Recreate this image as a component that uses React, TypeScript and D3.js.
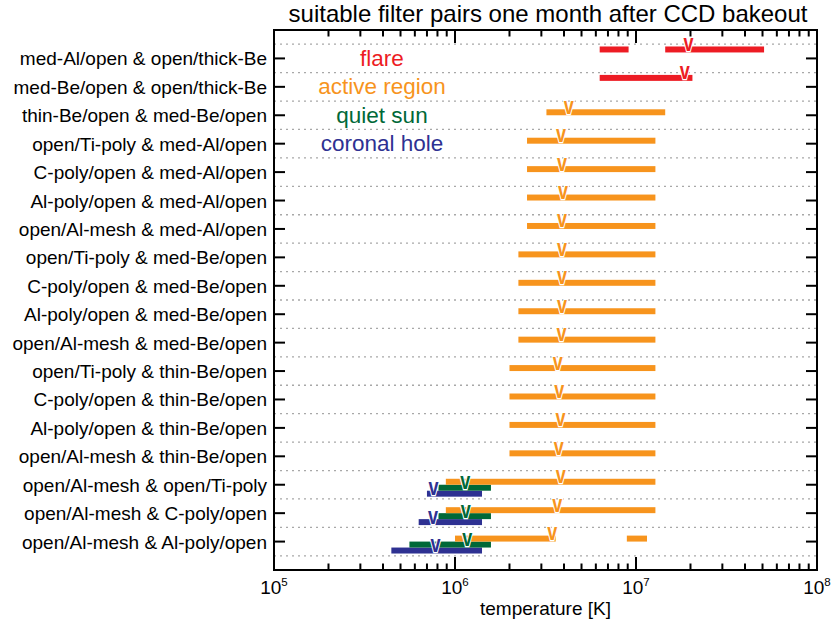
import * as React from "react";
import { scaleLog, scaleLinear, range } from "d3";

// filter pair labels, top to bottom
const pairLabels = [
  "med-Al/open & open/thick-Be",
  "med-Be/open & open/thick-Be",
  "thin-Be/open & med-Be/open",
  "open/Ti-poly & med-Al/open",
  "C-poly/open & med-Al/open",
  "Al-poly/open & med-Al/open",
  "open/Al-mesh & med-Al/open",
  "open/Ti-poly & med-Be/open",
  "C-poly/open & med-Be/open",
  "Al-poly/open & med-Be/open",
  "open/Al-mesh & med-Be/open",
  "open/Ti-poly & thin-Be/open",
  "C-poly/open & thin-Be/open",
  "Al-poly/open & thin-Be/open",
  "open/Al-mesh & thin-Be/open",
  "open/Al-mesh & open/Ti-poly",
  "open/Al-mesh & C-poly/open",
  "open/Al-mesh & Al-poly/open",
];

// [row, Tmin, Tmax] in K
const flareRanges: [number, number, number][] = [
  [0, 6.3e6, 9.1e6],
  [0, 1.45e7, 5.1e7],
  [1, 6.3e6, 2.05e7],
];
const flarePeaks: [number, number][] = [[0, 1.95e7], [1, 1.86e7]];

const activeRanges: [number, number, number][] = [
  [2, 3.2e6, 1.45e7],
  [3, 2.5e6, 1.28e7],
  [4, 2.5e6, 1.28e7],
  [5, 2.5e6, 1.28e7],
  [6, 2.5e6, 1.28e7],
  [7, 2.24e6, 1.28e7],
  [8, 2.24e6, 1.28e7],
  [9, 2.24e6, 1.28e7],
  [10, 2.24e6, 1.28e7],
  [11, 2.0e6, 1.28e7],
  [12, 2.0e6, 1.28e7],
  [13, 2.0e6, 1.28e7],
  [14, 2.0e6, 1.28e7],
  [15, 8.9e5, 1.28e7],
  [16, 8.9e5, 1.28e7],
  [17, 1.0e6, 3.6e6],
  [17, 8.9e6, 1.15e7],
];
const activePeaks: [number, number][] = [
  [2, 4.25e6], [3, 3.85e6], [4, 3.9e6], [5, 3.95e6], [6, 3.9e6],
  [7, 3.9e6], [8, 3.9e6], [9, 3.9e6], [10, 3.87e6],
  [11, 3.7e6], [12, 3.77e6], [13, 3.83e6], [14, 3.74e6],
  [15, 3.84e6], [16, 3.67e6], [17, 3.45e6],
];

const quietRanges: [number, number, number][] = [
  [15, 8.1e5, 1.58e6],
  [16, 8.1e5, 1.58e6],
  [17, 5.6e5, 1.58e6],
];
const quietPeaks: [number, number][] = [[15, 1.14e6], [16, 1.145e6], [17, 1.17e6]];

const holeRanges: [number, number, number][] = [
  [15, 7.0e5, 1.41e6],
  [16, 6.3e5, 1.41e6],
  [17, 4.45e5, 1.41e6],
];
const holePeaks: [number, number][] = [[15, 7.6e5], [16, 7.55e5], [17, 7.8e5]];

const seriesNames = ["flare", "active region", "quiet sun", "coronal hole"];
const seriesColors = ["#ed1c24", "#f7941d", "#006838", "#2e3192"];

const decadeTicks = [1e5, 1e6, 1e7, 1e8];
const decadeExponents = ["5", "6", "7", "8"];

const width = 833, height = 624;
const font = "'Liberation Sans', Arial, Helvetica, sans-serif";

export default function App() {
  const left = 274, right = 817, top = 30, bottom = 570;
  const x = scaleLog().domain([1e5, 1e8]).range([left, right]);
  const y = scaleLinear().domain([0, 19]).range([top, bottom]);
  const rowY = (i: number) => y(i + 1);
  const band = 0.21;
  const bandTop = (i: number, k: number) => y(i + 1 - 2 * band + k * band);

  const minorTicks: number[] = [];
  [1e5, 1e6, 1e7].forEach((d) => range(2, 10).forEach((m) => minorTicks.push(d * m)));

  const allRanges = [flareRanges, activeRanges, quietRanges, holeRanges];
  const allPeaks = [flarePeaks, activePeaks, quietPeaks, holePeaks];

  return (
    <svg width={width} height={height} style={{ position: "absolute", left: 0, top: 0 }} fontFamily={font}>
      <rect width={width} height={height} fill="#fff" />
      <text x={548} y={22} fontSize={24} textAnchor="middle">
        suitable filter pairs one month after CCD bakeout
      </text>

      {/* dotted separators */}
      {range(0, 19).map((i) => (
        <line key={"g" + i} x1={left} x2={right} y1={y(i + 0.5)} y2={y(i + 0.5)}
          stroke="#a8a8a8" strokeWidth={1.3} strokeDasharray="2 4" />
      ))}

      {/* legend */}
      {seriesNames.map((s, k) => (
        <text key={s} x={382} y={rowY(k) + 7.5} fontSize={22.5} textAnchor="middle" fill={seriesColors[k]}>
          {s}
        </text>
      ))}

      {/* bars, drawn back to front */}
      {[3, 2, 1, 0].map((k) =>
        allRanges[k].map(([r, lo, hi], j) => (
          <rect key={"b" + k + "-" + j} x={x(lo)} width={x(hi) - x(lo)}
            y={bandTop(r, k)} height={bandTop(r, k + 1) - bandTop(r, k)} fill={seriesColors[k]} />
        ))
      )}

      {/* peak markers */}
      {[3, 2, 1, 0].map((k) =>
        allPeaks[k].map(([r, t], j) => (
          <text key={"p" + k + "-" + j} fontSize={20} fontWeight="bold" textAnchor="middle"
            transform={`translate(${x(t)},${(bandTop(r, k) + bandTop(r, k + 1)) / 2 + 1.5}) scale(0.9,1.2)`}
            fill={seriesColors[k]} stroke="#fff" strokeWidth={2.2} style={{ paintOrder: "stroke" }}>
            v
          </text>
        ))
      )}

      {/* frame */}
      <rect x={left} y={top} width={right - left} height={bottom - top} fill="none" stroke="#000" strokeWidth={2} />

      {/* x ticks */}
      {decadeTicks.map((t) => (
        <g key={"M" + t}>
          <line x1={x(t)} x2={x(t)} y1={bottom} y2={bottom - 13} stroke="#000" strokeWidth={2} />
          <line x1={x(t)} x2={x(t)} y1={top} y2={top + 13} stroke="#000" strokeWidth={2} />
        </g>
      ))}
      {minorTicks.map((t) => (
        <g key={"m" + t}>
          <line x1={x(t)} x2={x(t)} y1={bottom} y2={bottom - 6.5} stroke="#000" strokeWidth={2} />
          <line x1={x(t)} x2={x(t)} y1={top} y2={top + 6.5} stroke="#000" strokeWidth={2} />
        </g>
      ))}
      {decadeTicks.map((t, i) => (
        <text key={"l" + t} x={x(t)} y={594} fontSize={19} textAnchor="middle">
          10<tspan fontSize={11.5} dy={-8}>{decadeExponents[i]}</tspan>
        </text>
      ))}
      <text x={(left + right) / 2} y={615} fontSize={19} textAnchor="middle">temperature [K]</text>

      {/* y ticks and labels */}
      {pairLabels.map((lab, i) => (
        <g key={lab}>
          <line x1={left} x2={left + 11} y1={rowY(i)} y2={rowY(i)} stroke="#000" strokeWidth={2} />
          <line x1={right} x2={right - 11} y1={rowY(i)} y2={rowY(i)} stroke="#000" strokeWidth={2} />
          <text x={267} y={rowY(i) + 7} fontSize={19} textAnchor="end">{lab}</text>
        </g>
      ))}
    </svg>
  );
}
